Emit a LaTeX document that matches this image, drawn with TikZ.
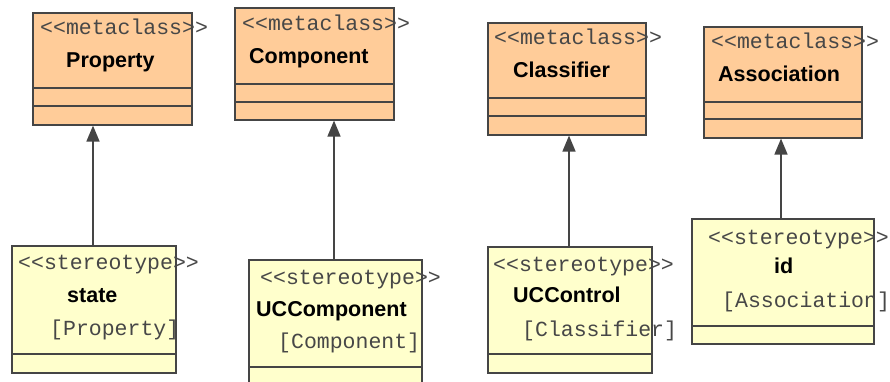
\documentclass[tikz,border=0pt]{standalone}
\usepackage{fontspec}
\setmainfont{Liberation Sans}
\newfontfamily\monof{Liberation Mono}
\usetikzlibrary{arrows.meta}
\definecolor{metafill}{HTML}{FFCC99}
\definecolor{stfill}{HTML}{FFFFCC}
\definecolor{edge}{HTML}{454545}
\definecolor{txtgray}{HTML}{474747}
\tikzset{
  metabox/.style={draw=edge, line width=1.6pt, fill=metafill, inner sep=0pt, anchor=north west},
  stbox/.style={draw=edge, line width=1.6pt, fill=stfill, inner sep=0pt, anchor=north west},
  divline/.style={draw=edge, line width=1.6pt},
  mono/.style={anchor=base west, inner sep=0pt, text=txtgray, font=\monof\fontsize{21.5}{25}\selectfont},
  bname/.style={anchor=base west, inner sep=0pt, text=black, font=\bfseries\fontsize{21.5}{25}\selectfont},
  gen/.style={draw=edge, line width=1.6pt, -{Triangle[length=16pt,width=13pt]}},
}
\begin{document}
\begin{tikzpicture}[x=1pt,y=-1pt]
\path[clip] (0,0) rectangle (890,382);
\fill[white] (0,0) rectangle (890,382);
% metaclass boxes
\node[metabox, minimum width=159pt, minimum height=112pt] (prop) at (32,12) {};
\draw[divline] (32,88) -- (191,88) (32,106) -- (191,106);
\node[mono] (propst) at (40,35) {<<metaclass>>};
\node[bname] (propname) at (66,68) {Property};

\node[metabox, minimum width=159pt, minimum height=112pt] (comp) at (234,7) {};
\draw[divline] (234,84) -- (393,84) (234,102) -- (393,102);
\node[mono] (compst) at (242,31) {<<metaclass>>};
\node[bname] (compname) at (249,64) {Component};

\node[metabox, minimum width=158pt, minimum height=112pt] (clas) at (487,22) {};
\draw[divline] (487,98) -- (645,98) (487,116) -- (645,116);
\node[mono] (classt) at (494,45) {<<metaclass>>};
\node[bname] (clasname) at (513,78) {Classifier};

\node[metabox, minimum width=158pt, minimum height=111pt] (asso) at (703,26) {};
\draw[divline] (703,102) -- (861,102) (703,119) -- (861,119);
\node[mono] (assost) at (711,49) {<<metaclass>>};
\node[bname] (assoname) at (718,82) {Association};

% stereotype boxes
\node[stbox, minimum width=164pt, minimum height=127pt] (state) at (11,245) {};
\draw[divline] (11,354) -- (175,354);
\node[mono] (statest) at (18,269) {<<stereotype>>};
\node[bname] (statename) at (67,302) {state};
\node[mono] (statebase) at (50,335) {[Property]};

\node[stbox, minimum width=173pt, minimum height=140pt] (ucc) at (248,259) {};
\draw[divline] (248,367) -- (421,367);
\node[mono] (uccst) at (260,284) {<<stereotype>>};
\node[bname] (uccname) at (256,316) {UCComponent};
\node[mono] (uccbase) at (278,348) {[Component]};

\node[stbox, minimum width=164pt, minimum height=126pt] (ucctl) at (487,246) {};
\draw[divline] (487,354) -- (651,354);
\node[mono] (ucctlst) at (493,271) {<<stereotype>>};
\node[bname] (ucctlname) at (513,302) {UCControl};
\node[mono] (ucctlbase) at (522,336) {[Classifier]};

\node[stbox, minimum width=182pt, minimum height=125pt] (idb) at (691,218) {};
\draw[divline] (691,326) -- (873,326);
\node[mono] (idst) at (708,244) {<<stereotype>>};
\node[bname] (idname) at (774,273) {id};
\node[mono] (idbase) at (722,307) {[Association]};

% generalizations
\coordinate (a1) at (93,0);
\coordinate (a2) at (334,0);
\coordinate (a3) at (569,0);
\coordinate (a4) at (781,0);
\draw[gen] (state.north -| a1) -- (prop.south -| a1);
\draw[gen] (ucc.north -| a2) -- (comp.south -| a2);
\draw[gen] (ucctl.north -| a3) -- (clas.south -| a3);
\draw[gen] (idb.north -| a4) -- (asso.south -| a4);
\end{tikzpicture}
\end{document}
